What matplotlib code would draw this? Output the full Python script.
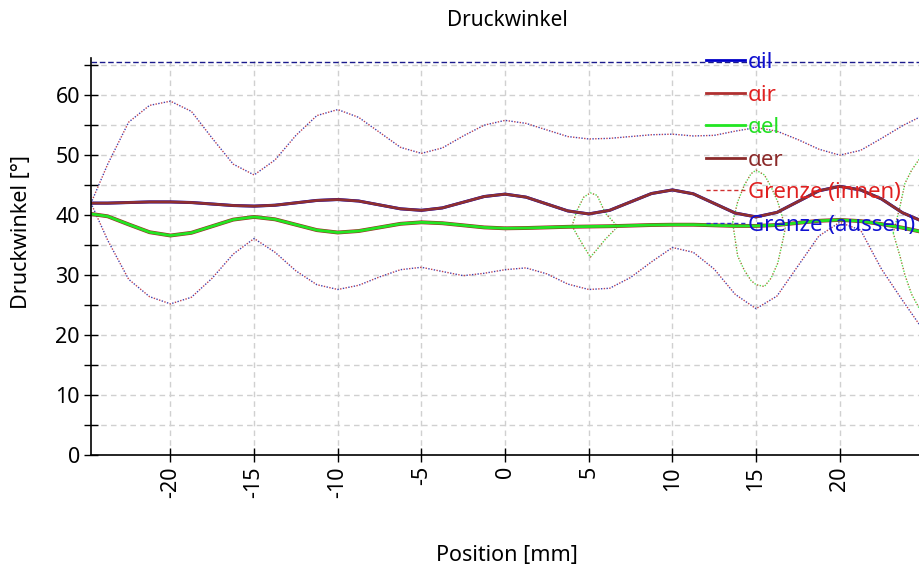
import matplotlib
matplotlib.use("Agg")
import matplotlib.pyplot as plt
from matplotlib.lines import Line2D

plt.rcParams['font.family'] = ['Noto Sans', 'DejaVu Sans']
plt.rcParams['axes.unicode_minus'] = False

# Position [mm]
x_pos = [-24.75, -23.75, -22.5, -21.25, -20, -18.75, -17.5, -16.25, -15, -13.75,
         -12.5, -11.25, -10, -8.75, -7.5, -6.25, -5, -3.75, -2.5, -1.25,
         0, 1.25, 2.5, 3.75, 5, 6.25, 7.5, 8.75, 10, 11.25,
         12.5, 13.75, 15, 16.25, 17.5, 18.75, 20, 21.25, 22.5, 23.75, 24.75]

# aussen (oben) - aer / ail liegen aufeinander
alpha_er = [42.0, 42.0, 42.1, 42.2, 42.2, 42.1, 41.85, 41.6, 41.5, 41.65,
            42.05, 42.45, 42.6, 42.35, 41.7, 41.05, 40.8, 41.2, 42.15, 43.1,
            43.5, 43.0, 41.85, 40.7, 40.2, 40.8, 42.2, 43.6, 44.2, 43.55,
            41.95, 40.35, 39.7, 40.45, 42.25, 44.05, 44.8, 44.2, 42.7, 40.4, 39.2]
alpha_il = list(alpha_er)

# ael / air liegen aufeinander
alpha_el = [40.2, 39.8, 38.45, 37.15, 36.6, 37.05, 38.15, 39.25, 39.7, 39.3,
            38.4, 37.5, 37.1, 37.35, 37.95, 38.55, 38.8, 38.65, 38.3, 37.95,
            37.8, 37.85, 37.95, 38.05, 38.1, 38.15, 38.25, 38.35, 38.4, 38.4,
            38.3, 38.2, 38.2, 38.35, 38.7, 39.05, 39.2, 39.0, 38.5, 37.9, 37.3]
alpha_ir = list(alpha_el)

grenze_oben = [42.0, 48.5, 55.5, 58.3, 59.0, 57.3, 52.8, 48.5, 46.7, 49.2,
               53.3, 56.6, 57.6, 56.3, 53.8, 51.3, 50.3, 51.2, 53.2, 55.0,
               55.8, 55.3, 54.2, 53.1, 52.7, 52.8, 53.1, 53.4, 53.5, 53.2,
               53.3, 54.0, 54.6, 54.0, 52.6, 51.0, 50.0, 50.8, 52.8, 54.9, 56.3]
grenze_unten = [42.0, 35.8, 29.3, 26.4, 25.2, 26.3, 29.5, 33.5, 36.1, 33.8,
                30.7, 28.4, 27.6, 28.3, 29.7, 30.9, 31.3, 30.6, 29.9, 30.3,
                30.9, 31.2, 30.2, 28.5, 27.6, 27.8, 29.6, 32.2, 34.6, 33.8,
                31.0, 26.8, 24.4, 26.5, 31.5, 36.5, 38.8, 37.5, 31.0, 25.8, 21.8]
grenze_max = 65.5

# Ausreisser der Flanke (gepunktet)
lens1_x = [4.0, 4.3, 4.7, 5.1, 5.5, 6.0, 6.7]
lens1_top = [38.2, 40.8, 43.0, 43.7, 43.3, 40.3, 38.2]
lens1_bot = [38.2, 36.7, 34.8, 33.0, 34.3, 36.0, 38.0]

lens2_x = [13.6, 13.9, 14.3, 14.7, 15.0, 15.5, 15.9, 16.3, 16.6, 16.75]
lens2_top = [38.8, 42.2, 45.0, 46.9, 47.5, 46.7, 44.7, 42.2, 39.4, 37.8]
lens2_bot = [38.8, 33.2, 30.8, 29.1, 28.4, 28.1, 29.5, 32.0, 35.8, 37.8]

lens3_x = [23.2, 23.6, 23.9, 24.3, 24.8]
lens3_top = [37.0, 41.4, 45.3, 47.5, 49.5]
lens3_bot = [37.0, 33.2, 30.0, 26.8, 24.2]

labels = ['αil', 'αir', 'αel', 'αer', 'Grenze (innen)', 'Grenze (aussen)']
text_colors = ['#1010d0', '#e02020', '#22e022', '#8b2a2a', '#e02020', '#1010d0']

fig = plt.figure(figsize=(9.2, 5.76), dpi=100)
ax = fig.add_axes([91/920, 121/576, 829/920, 397/576])

# grenzen: rot + blau gepunktet uebereinander
for yy in [grenze_oben, grenze_unten]:
    ax.plot(x_pos, yy, color='#c04050', lw=1.0, linestyle=(0, (1, 3)))
    ax.plot(x_pos, yy, color='#4040b0', lw=1.0, linestyle=(2, (1, 3)))

ax.axhline(grenze_max, color='#1a1a8c', lw=1.0, linestyle=(0, (4, 2)))

for lx, lt, lb in [(lens1_x, lens1_top, lens1_bot),
                   (lens2_x, lens2_top, lens2_bot),
                   (lens3_x, lens3_top, lens3_bot)]:
    for yy in [lt, lb]:
        ax.plot(lx, yy, color='#50e050', lw=1.0, linestyle=(0, (1, 3)))
        ax.plot(lx, yy, color='#a07030', lw=1.0, linestyle=(2, (1, 3)))

ax.plot(x_pos, alpha_il, color='#0000c8', lw=2.2)
ax.plot(x_pos, alpha_ir, color='#a02828', lw=2.8)
ax.plot(x_pos, alpha_el, color='#22e622', lw=2.0)
ax.plot(x_pos, alpha_er, color='#8f2f2f', lw=2.0)

ax.set_xlim(-24.75, 24.8)
ax.set_ylim(0, 66.2)
ax.set_xticks([-20, -15, -10, -5, 0, 5, 10, 15, 20])
ax.set_yticks([0, 10, 20, 30, 40, 50, 60])
ax.set_yticks([5, 15, 25, 35, 45, 55, 65], minor=True)
ax.tick_params(axis='both', which='both', direction='inout', length=10, width=1.0,
               labelsize=15.5, pad=3)
ax.tick_params(axis='x', labelrotation=90)
ax.grid(True, which='both', color='#d0d0d0', linestyle=(0, (4, 3)), lw=1.0)
ax.set_axisbelow(True)
for s in ['top', 'right']:
    ax.spines[s].set_visible(False)
ax.spines['left'].set_linewidth(1.2)
ax.spines['bottom'].set_linewidth(1.2)

fig.text(507/920, 1 - 20/576, 'Druckwinkel', ha='center', va='center', fontsize=15)
fig.text(22/920, 1 - 232/576, 'Druckwinkel [°]', ha='center', va='center',
         rotation=90, fontsize=15.5)
fig.text(507/920, 1 - 555/576, 'Position [mm]', ha='center', va='center', fontsize=15.5)

handles = [Line2D([], [], color='#0000c8', lw=2),
           Line2D([], [], color='#b03030', lw=2),
           Line2D([], [], color='#22e622', lw=2),
           Line2D([], [], color='#8b2a2a', lw=2),
           Line2D([], [], color='#d03030', lw=1, linestyle=(0, (3, 2))),
           Line2D([], [], color='#3030c0', lw=1, linestyle=(0, (3, 2)))]
leg = ax.legend(handles, labels, loc='upper left', bbox_to_anchor=(706/920, 1 - 52/576),
                bbox_transform=fig.transFigure, frameon=False, fontsize=16,
                handlelength=1.75, handletextpad=0.15, labelspacing=0.52,
                borderpad=0, borderaxespad=0, labelcolor=text_colors)

fig.savefig('out.png', dpi=100)
